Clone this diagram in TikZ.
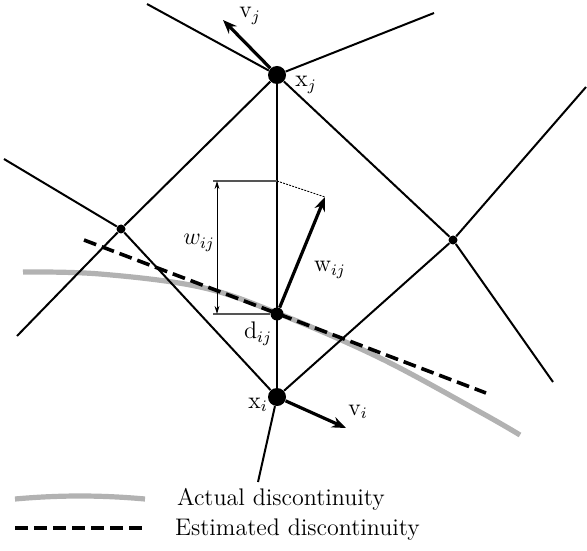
\documentclass[tikz,border=0pt]{standalone}
\usepackage{tikz}
\usetikzlibrary{arrows.meta}
\usepackage{xcolor}
\definecolor{discgray}   {RGB}{178,178,178}
\definecolor{dimgray}    {RGB}{ 85, 85, 85}
\tikzset{
  edge line/.style   = {line width=1pt},
  actual line/.style = {discgray, line width=2.6pt},
  est line/.style    = {line width=1.8pt, dash pattern=on 6.5pt off 3pt},
  big dot/.style     = {circle, fill, inner sep=0pt, minimum size=9pt},
  mid dot/.style     = {circle, fill, inner sep=0pt, minimum size=6.5pt},
  small dot/.style   = {circle, fill, inner sep=0pt, minimum size=4.5pt},
  vec arrow/.style   = {line width=1.6pt, -{Stealth[length=7pt, width=5.5pt]}},
  dim arrow/.style   = {line width=0.5pt,
                        {Stealth[length=4pt, width=2.4pt]}-{Stealth[length=4pt, width=2.4pt]}},
  dim line/.style    = {dimgray, line width=0.6pt},
  proj line/.style   = {line width=0.4pt, dash pattern=on 1pt off 0.6pt},
}

\begin{document}
\begin{tikzpicture}[>=Stealth, x=0.5pt, y=-0.5pt, font=\fontsize{12}{14}\selectfont]

  \useasboundingbox (0,0) rectangle (587,550);

  % ── generators and vertices ────────────────────────────────────────────────
  \node[big dot]   (xj) at (277, 75)  {};
  \node[big dot]   (xi) at (277,397)  {};
  \node[small dot] (vl) at (121,229)  {};
  \node[small dot] (vr) at (453,240)  {};

  % free ends of the rays
  \coordinate (ej1) at (147,  4);
  \coordinate (ej2) at (434, 13);
  \coordinate (el1) at (  4,159);
  \coordinate (el2) at ( 17,336);
  \coordinate (er1) at (586, 87);
  \coordinate (er2) at (553,382);
  \coordinate (ei1) at (258,482);

  % ── discontinuities ────────────────────────────────────────────────────────
  \draw[actual line] plot[smooth, tension=0.6] coordinates
    {(23,272) (100,274) (200,287) (277,313) (380,358) (480,412) (520,435)};

  \coordinate (es1) at ( 84,240);
  \coordinate (es2) at (486,393);
  \draw[est line] (es1) -- (es2);

  % ── cell edges ─────────────────────────────────────────────────────────────
  \draw[edge line] (xj) -- (ej1);
  \draw[edge line] (xj) -- (ej2);
  \draw[edge line] (xj) -- (vl);
  \draw[edge line] (xj) -- (vr);
  \draw[edge line] (xj) -- (xi);
  \draw[edge line] (vl) -- (xi);
  \draw[edge line] (vr) -- (xi);
  \draw[edge line] (vl) -- (el1);
  \draw[edge line] (vl) -- (el2);
  \draw[edge line] (vr) -- (er1);
  \draw[edge line] (vr) -- (er2);
  \draw[edge line] (xi) -- (ei1);

  \node[mid dot] (dij) at (277,314) {};

  % ── vectors ────────────────────────────────────────────────────────────────
  \coordinate (vjtip) at (223, 20);
  \coordinate (vitip) at (346,428);
  \coordinate (wtip)  at (325,197);
  \draw[vec arrow] (xj)  -- (vjtip);
  \draw[vec arrow] (xi)  -- (vitip);
  \draw[vec arrow] (dij) -- (wtip);

  % width bracket
  \coordinate (wtop) at (277,181);
  \coordinate (htop) at (213,181);
  \coordinate (hbot) at (213,314);
  \coordinate (btop) at (217,181);
  \coordinate (bbot) at (217,314);
  \draw[dim line]  (htop) -- (wtop);
  \draw[dim line]  (hbot) -- (dij);
  \draw[dim arrow] (btop) -- (bbot);
  \draw[proj line] (wtop) -- (wtip);

  % labels
  \node (lvj)  at (250, 16) {v$_j$};
  \node (lxj)  at (306, 85) {x$_j$};
  \node (lwm)  at (199,243) {$w_{ij}$};
  \node (lwv)  at (330,270) {w$_{ij}$};
  \node (ldij) at (258,334) {d$_{ij}$};
  \node (lxi)  at (258,405) {x$_i$};
  \node (lvi)  at (358,412) {v$_i$};

  % ── legend ─────────────────────────────────────────────────────────────────
  \coordinate (la1) at ( 15,499);
  \coordinate (la2) at (145,499);
  \draw[actual line] (la1) .. controls (60,495) and (100,495) .. (la2);
  \node[anchor=base west] (lta) at (170,505) {Actual discontinuity};

  \coordinate (le1) at ( 15,528);
  \coordinate (le2) at (145,528);
  \draw[est line] (le1) -- (le2);
  \node[anchor=base west] (lte) at (168,535) {Estimated discontinuity};

\end{tikzpicture}
\end{document}
